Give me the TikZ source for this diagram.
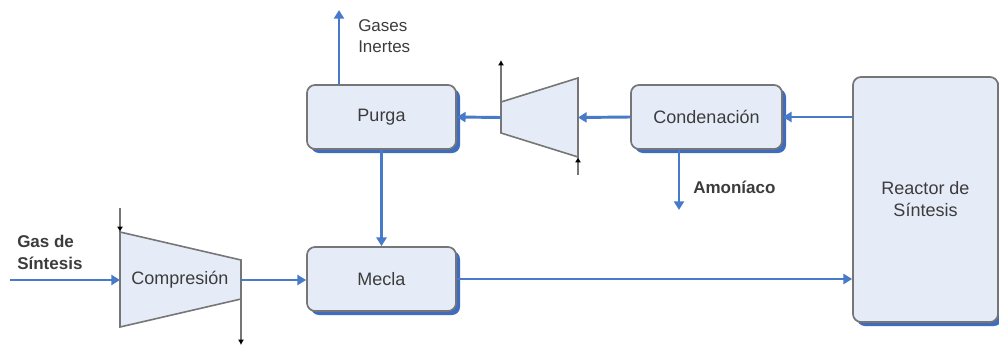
\documentclass[tikz,border=0pt]{standalone}
\usepackage{fontspec}
\setmainfont{Liberation Sans}
\usetikzlibrary{arrows.meta,shadows,calc}
\definecolor{boxfill}{RGB}{230,236,247}
\definecolor{boxline}{RGB}{118,118,118}
\definecolor{shadowblue}{RGB}{62,108,190}
\definecolor{flowblue}{RGB}{72,122,202}
\definecolor{txt}{RGB}{60,60,60}
\begin{document}
\begin{tikzpicture}[x=0.75pt,y=-0.75pt,
  unit/.style={draw=boxline, line width=1.3pt, fill=boxfill, rounded corners=6pt,
    text=txt, font=\fontsize{13.5}{16.5}\selectfont, inner sep=0pt, align=center,
    drop shadow={shadow xshift=3pt, shadow yshift=-3pt, fill=shadowblue, opacity=1}},
  machine/.style={draw=boxline, line width=1.2pt, fill=boxfill},
  shaft/.style={draw=boxline, line width=1.2pt, -{Latex[length=4pt,width=4.5pt,color=black]}},
  flow/.style={draw=flowblue, line width=2.2pt, -{Triangle[length=6.5pt,width=7.5pt]}},
  tag/.style={text=txt, font=\fontsize{12.75}{16}\selectfont, inner sep=0pt, align=left},
  boldtag/.style={tag, font=\fontsize{12.75}{16}\selectfont\bfseries}
]
\useasboundingbox (0,0) rectangle (999,347);

% process units
\node[unit, minimum width=111.75pt, minimum height=48pt] (purga) at (381.5,117) {Purga};
\node[unit, minimum width=111.75pt, minimum height=48pt] (mecla) at (381.5,279) {Mecla};
\node[unit, minimum width=113.25pt, minimum height=48pt] (cond) at (706.5,117) {Condenación};
\node[unit, minimum width=108.75pt, minimum height=183.75pt] (reactor) at (925.5,199.5) {Reactor de\\Síntesis};

% feed compressor
\draw[machine] (120,232) -- (241,260) -- (241,299) -- (120,327) -- cycle;
\node[text=txt, font=\fontsize{13.5}{16}\selectfont, inner sep=0pt] (compr) at (180,280) {Compresión};
\coordinate (comp-in) at (120,280);
\coordinate (comp-out) at (241,280);
\coordinate (comp-top) at (120,232);
\coordinate (comp-bot) at (241,299);
\coordinate (comp-shaft-a) at (120,208);
\coordinate (comp-shaft-b) at (241,345);
\draw[shaft] (comp-shaft-a) -- (comp-top);
\draw[shaft] (comp-bot) -- (comp-shaft-b);

% recycle compressor
\draw[machine] (501,102) -- (578,78) -- (578,157) -- (501,133) -- cycle;
\coordinate (rec-in) at (578,117.5);
\coordinate (rec-out) at (501,117.5);
\coordinate (rec-top) at (501,102);
\coordinate (rec-bot) at (578,157);
\coordinate (rec-shaft-a) at (501,60);
\coordinate (rec-shaft-b) at (578,175);
\draw[shaft] (rec-top) -- (rec-shaft-a);
\draw[shaft] (rec-shaft-b) -- (rec-bot);

% free stream ends
\coordinate (feed) at (10,280);
\coordinate (vent) at (339,10);
\coordinate (nh3) at (679,210);

% streams
\draw[flow] (feed) -- (comp-in);
\draw[flow] (comp-out) -- (mecla.west |- comp-out);
\draw[flow] (mecla.east) -- (mecla.east -| reactor.west);
\draw[flow] (cond.east -| reactor.west) -- (cond.east);
\draw[flow] (cond.west) -- (rec-in);
\draw[flow] (rec-out) -- (purga.east);
\draw[flow] (purga.south) -- (mecla.north);
\draw[flow] (purga.north -| vent) -- (vent);
\draw[flow] (cond.south -| nh3) -- (nh3);

% labels
\node[tag, anchor=west] (lbl-vent) at (358,36) {Gases\\Inertes};
\node[boldtag, anchor=west] (lbl-feed) at (17,252.5) {Gas de\\Síntesis};
\node[boldtag, anchor=west] (lbl-nh3) at (693,187) {Amoníaco};
\end{tikzpicture}
\end{document}
